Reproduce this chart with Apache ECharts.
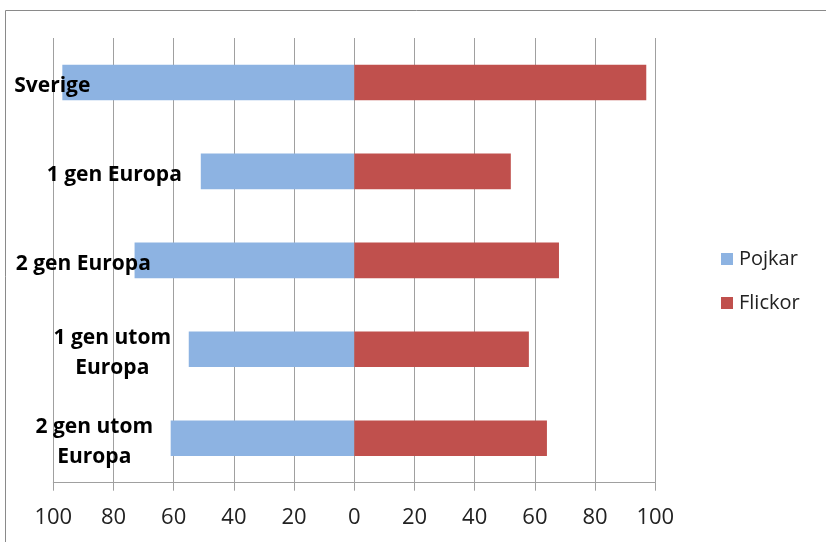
<!DOCTYPE html>
<html><head><meta charset="utf-8">
<script src="https://cdn.jsdelivr.net/npm/echarts@6/dist/echarts.min.js"></script>
<style>html,body{margin:0;padding:0;background:#fff}#c{width:826px;height:542px}</style>
</head><body><div id="c"></div>
<script>
var categories = ['Sverige', '1 gen Europa', '2 gen Europa', '1 gen utom\nEuropa', '2 gen utom\nEuropa'];
var pojkar = [97, 51, 73, 55, 61];
var flickor = [97, 52, 68, 58, 64];
var seriesNames = ['Pojkar', 'Flickor'];
var tickValues = [-100, -80, -60, -40, -20, 0, 20, 40, 60, 80, 100];

// per-category horizontal shift of label centre (layout only)
var labelShift = [-1, 61, 30, 59, 41];
var rich = {};
labelShift.forEach(function (s, i) {
  rich['l' + i] = {
    fontFamily: 'Open Sans', fontWeight: 'bold', fontSize: 21, color: '#000', lineHeight: 30,
    padding: s >= 0 ? [0, 0, 0, 2 * s] : [0, -2 * s, 0, 0]
  };
});

var chart = echarts.init(document.getElementById('c'));
chart.setOption({
  animation: false,
  graphic: [{ type: 'rect', shape: { x: 5.5, y: 10.5, width: 900, height: 600 }, style: { fill: 'none', stroke: '#8a8a8a', lineWidth: 1 }, z: -10 }],
  legend: {
    orient: 'vertical', left: 716, top: 244, itemWidth: 12, itemHeight: 12, itemGap: 24,
    icon: 'rect',
    textStyle: { fontFamily: 'Open Sans', fontSize: 20, color: '#222', padding: [0, 0, 0, 1] },
    data: seriesNames
  },
  grid: { left: 53.3, right: 170.7, top: 38, bottom: 59.3, containLabel: false, outerBoundsMode: 'none' },
  xAxis: {
    type: 'value', min: -100, max: 100, interval: 20,
    axisLine: { show: true, lineStyle: { color: '#a0a0a0', width: 1 } },
    axisTick: { show: true, length: 8, lineStyle: { color: '#a0a0a0' } },
    splitLine: { show: true, lineStyle: { color: '#a0a0a0', width: 1 } },
    axisLabel: {
      fontFamily: 'Open Sans', fontSize: 22, color: '#222', margin: 24,
      formatter: function (v) { return String(Math.abs(v)); }
    }
  },
  yAxis: {
    type: 'category', inverse: true, data: categories,
    axisLine: { show: false }, axisTick: { show: false },
    axisLabel: {
      inside: true, margin: 0, align: 'center', padding: [8, 0, 0, 0],
      formatter: function (v, i) {
        return v.split('\n').map(function (t) { return '{l' + i + '|' + t + '}'; }).join('\n');
      },
      rich: rich
    },
    z: 10
  },
  series: [
    { name: seriesNames[0], type: 'bar', stack: 'a', barWidth: '40%',
      data: pojkar.map(function (v) { return -v; }), itemStyle: { color: '#8DB3E2' }, z: 2 },
    { name: seriesNames[1], type: 'bar', stack: 'a', barWidth: '40%',
      data: flickor, itemStyle: { color: '#C0504D' }, z: 2 }
  ]
});
</script></body></html>
